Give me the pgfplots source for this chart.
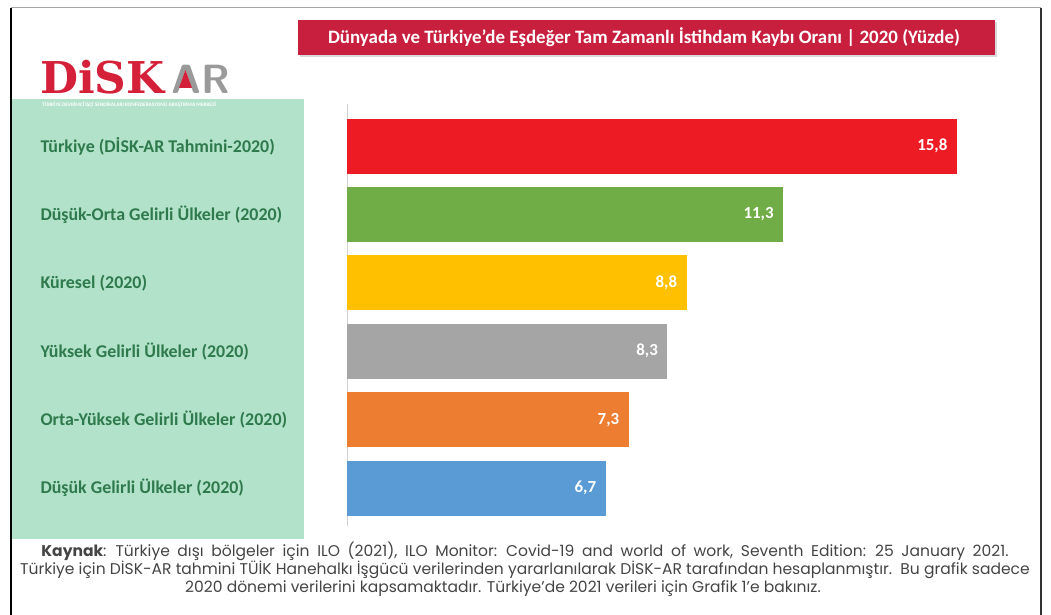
\documentclass[border=0pt]{standalone}
\usepackage{pgfplots}
\pgfplotsset{compat=1.18}
\usepackage{fontspec}
\setmainfont{Carlito}
\newfontfamily\footfont{Poppins}
\newfontfamily\logofont{DejaVu Serif}
\definecolor{cRed}{HTML}{ED1C24}
\definecolor{cGreen}{HTML}{70AD47}
\definecolor{cYellow}{HTML}{FFC000}
\definecolor{cGray}{HTML}{A5A5A5}
\definecolor{cOrange}{HTML}{ED7D31}
\definecolor{cBlue}{HTML}{5B9BD5}
\definecolor{panel}{HTML}{B2E2CA}
\definecolor{lab}{HTML}{2E7A4C}
\definecolor{titlered}{HTML}{C81F3E}
\definecolor{logored}{HTML}{D42038}
\definecolor{logogray}{HTML}{9A9A9A}
\definecolor{foot}{HTML}{444444}
\begin{document}
\begin{tikzpicture}
\begin{scope}[x=1bp,y=-1bp]
\useasboundingbox (0,0) rectangle (1051,615);
% frame
\draw[gray!70, line width=1bp] (11,8) -- (1041,8);
\draw[black, line width=1.2bp] (11,8) -- (11,615);
\draw[black!80, line width=1.2bp] (1041,8) -- (1041,615);
% green panel
\fill[panel] (12,99) rectangle (304,539);
% logo
\node[anchor=base west, inner sep=0, text=logored, font=\logofont\bfseries\fontsize{44}{44}\selectfont] at (40,94) {DiSK};
\node[anchor=base west, inner sep=0, text=logogray, font=\sffamily\bfseries\fontsize{41}{41}\selectfont] at (171,94) {AR};
\fill[logored] (185.5,70) -- (179,88) -- (192,88) -- cycle;
\node[anchor=west, inner sep=0, text=white, font=\bfseries\fontsize{5.3}{6}\selectfont] at (42,105) {TÜRKİYE DEVRİMCİ İŞÇİ SENDİKALARI KONFEDERASYONU ARAŞTIRMA MERKEZİ};
% title box
\fill[gray!30] (300,22) rectangle (997,57);
\fill[titlered] (298,20) rectangle (995,55);
\node[text=white, font=\bfseries\fontsize{19}{22}\selectfont] at (644,37.5) {Dünyada ve Türkiye’de Eşdeğer Tam Zamanlı İstihdam Kaybı Oranı | 2020 (Yüzde)};
% footer
\node[text=foot, font=\footfont\fontsize{15.6}{18}\selectfont] at (525,551) {\spaceskip=7.6bp\relax\textbf{Kaynak}: Türkiye dışı bölgeler için ILO (2021), ILO Monitor: Covid-19 and world of work, Seventh Edition: 25 January 2021.};
\node[text=foot, font=\footfont\fontsize{15.6}{18}\selectfont] at (525,570) {Türkiye için DİSK-AR tahmini TÜİK Hanehalkı İşgücü verilerinden yararlanılarak DİSK-AR tarafından hesaplanmıştır.\ \ Bu grafik sadece};
\node[text=foot, font=\footfont\fontsize{15.6}{18}\selectfont] at (503,589) {2020 dönemi verilerini kapsamaktadır. Türkiye’de 2021 verileri için Grafik 1’e bakınız.};
\end{scope}
% chart
\begin{axis}[
  at={(347bp,-111.8bp)}, anchor=north west,
  scale only axis, width=656.2bp, height=410.4bp,
  xmin=0, xmax=17, ymin=-0.5, ymax=5.5, y dir=reverse,
  xbar, bar width=55bp, bar shift=0pt,
  axis x line=bottom, axis y line=left, axis line style={draw=none},
  ytick={0,1,2,3,4,5}, xtick=\empty,
  yticklabels={Türkiye (DİSK-AR Tahmini-2020),Düşük-Orta Gelirli Ülkeler (2020),Küresel (2020),Yüksek Gelirli Ülkeler (2020),Orta-Yüksek Gelirli Ülkeler (2020),Düşük Gelirli Ülkeler (2020)},
  yticklabel style={anchor=west, xshift=-310bp, text=lab, font=\bfseries\fontsize{18}{20}\selectfont},
  major tick length=0pt,
  nodes near coords,
  point meta=x,
  every node near coord/.append style={anchor=east, xshift=-6bp, text=white, font=\bfseries\fontsize{17}{19}\selectfont, /pgf/number format/.cd, fixed, fixed zerofill, precision=1, use comma, assume math mode=true},
  clip=false,
]
\draw[gray!35, line width=1bp] (axis cs:0,-0.62) -- (axis cs:0,5.55);
\addplot[fill=cRed, draw=none] coordinates {(15.8,0)};
\addplot[fill=cGreen, draw=none] coordinates {(11.3,1)};
\addplot[fill=cYellow, draw=none] coordinates {(8.8,2)};
\addplot[fill=cGray, draw=none] coordinates {(8.3,3)};
\addplot[fill=cOrange, draw=none] coordinates {(7.3,4)};
\addplot[fill=cBlue, draw=none] coordinates {(6.7,5)};
\end{axis}
\end{tikzpicture}
\end{document}
